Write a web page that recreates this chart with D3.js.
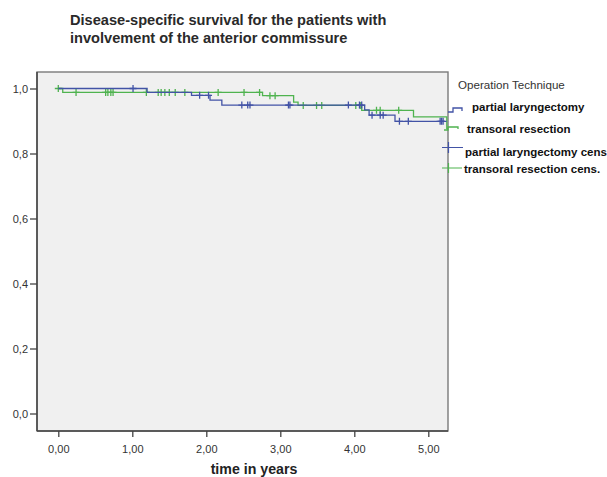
<!DOCTYPE html>
<html>
<head>
<meta charset="utf-8">
<style>
  body { margin: 0; background: #fff; }
  text { font-family: "Liberation Sans", Arial, sans-serif; }
</style>
</head>
<body>
<div id="chart"></div>
<script src="https://d3js.org/d3.v7.min.js"></script>
<script>
// ---- data
var xTicks = [0, 1, 2, 3, 4, 5];
var yTicks = [0, 0.2, 0.4, 0.6, 0.8, 1.0];

// partial laryngectomy (blue): step times + survival
var blueTimes = [0, 1.20, 1.80, 2.05, 2.21, 4.14, 4.20, 4.55];
var blueSurv  = [1.0, 0.988, 0.979, 0.964, 0.949, 0.934, 0.918, 0.899];
var blueEnd = 5.22;
var blueCens = [1.01, 1.91, 2.03, 2.48, 2.56, 2.59, 3.11, 3.13, 3.92, 4.07, 4.10,
                4.24, 4.35, 4.39, 4.61, 4.73, 5.16, 5.18, 5.20];

// transoral resection (green)
var greenTimes = [0, 0.06, 2.76, 3.18, 3.24, 4.10, 4.80, 5.25];
var greenSurv  = [1.0, 0.988, 0.978, 0.958, 0.948, 0.933, 0.913, 0.877];
var greenEnd = 5.265;
var greenCens = [0.0, 0.24, 0.64, 0.67, 0.71, 0.74, 1.19, 1.35, 1.39, 1.44, 1.50, 1.58,
                 1.71, 2.16, 2.51, 2.72, 2.86, 2.93, 3.31, 3.49, 3.56, 4.02, 4.08,
                 4.30, 4.35, 4.60];

var legendLabels = ["partial laryngectomy", "transoral resection",
                    "partial laryngectomy cens", "transoral resection cens."];

var blue = "#4253a6", green = "#4fb34f";

var width = 607, height = 477;
var svg = d3.select("#chart").append("svg")
    .attr("width", width)
    .attr("height", height);

var plot = {left: 37, right: 448, top: 72, bottom: 431};

var x = d3.scaleLinear().domain([0, 5]).range([58.3, 428.3]);
var y = d3.scaleLinear().domain([0, 1]).range([413.5, 88.5]);

// title
svg.append("text").attr("x", 70).attr("y", 25)
    .style("font-size", "14.6px").style("font-weight", "bold").style("fill", "#2a2a2a")
    .text("Disease-specific survival for the patients with");
svg.append("text").attr("x", 70).attr("y", 43)
    .style("font-size", "14.6px").style("font-weight", "bold").style("fill", "#2a2a2a")
    .text("involvement of the anterior commissure");

// plot background
svg.append("rect")
    .attr("x", plot.left).attr("y", plot.top)
    .attr("width", plot.right - plot.left).attr("height", plot.bottom - plot.top)
    .attr("fill", "#f0f0f0")
    .attr("stroke", "#7a7a7a").attr("stroke-width", 1.4);

// axes
var xAxis = svg.append("g")
    .attr("transform", "translate(0," + plot.bottom + ")")
    .call(d3.axisBottom(x).tickValues(xTicks).tickSize(6).tickSizeOuter(0)
        .tickFormat(function(d) { return d3.format(".2f")(d).replace(".", ","); }));
xAxis.select(".domain").attr("d", "M" + plot.left + ",0H" + plot.right)
    .attr("stroke", "#444").attr("stroke-width", 1.5);

var yAxis = svg.append("g")
    .attr("transform", "translate(" + plot.left + ",0)")
    .call(d3.axisLeft(y).tickValues(yTicks).tickSize(7).tickPadding(2)
        .tickFormat(function(d) { return d3.format(".1f")(d).replace(".", ","); }));
yAxis.select(".domain").attr("d", "M0," + plot.top + "V" + plot.bottom)
    .attr("stroke", "#444").attr("stroke-width", 1.5);

svg.selectAll(".tick line").attr("stroke", "#444").attr("stroke-width", 1.3);
svg.selectAll(".tick text")
    .style("font-family", "'Liberation Sans', Arial, sans-serif")
    .style("font-size", "11px").style("fill", "#333");
xAxis.selectAll(".tick text").attr("dy", "1.2em");

svg.append("text").attr("x", 254).attr("y", 474)
    .attr("text-anchor", "middle")
    .style("font-size", "14.2px").style("font-weight", "bold").style("fill", "#222")
    .text("time in years");

// survival curves
function stepPoints(times, surv, end) {
  var pts = times.map(function(t, i) { return [t, surv[i]]; });
  pts.push([end, surv[surv.length - 1]]);
  return pts;
}
function survAt(times, surv, t) {
  var s = surv[0];
  for (var i = 0; i < times.length; i++) { if (times[i] <= t) s = surv[i]; }
  return s;
}
var line = d3.line()
    .x(function(d) { return x(d[0]); })
    .y(function(d) { return y(d[1]); })
    .curve(d3.curveStepAfter);

function plus(cx, cy, s) {
  return "M" + (cx - s) + "," + cy + "h" + (2 * s) + "M" + cx + "," + (cy - s) + "v" + (2 * s);
}

var series = [
  {times: greenTimes, surv: greenSurv, end: greenEnd, cens: greenCens, color: green},
  {times: blueTimes, surv: blueSurv, end: blueEnd, cens: blueCens, color: blue}
];

series.forEach(function(s) {
  svg.append("path")
      .datum(stepPoints(s.times, s.surv, s.end))
      .attr("fill", "none")
      .attr("stroke", s.color)
      .attr("stroke-width", 1.3)
      .attr("d", line);
  svg.append("g").selectAll("path")
      .data(s.cens)
      .enter().append("path")
      .attr("fill", "none")
      .attr("stroke", s.color)
      .attr("stroke-width", 1.3)
      .attr("d", function(t) { return plus(x(t), y(survAt(s.times, s.surv, t)), 3.5); });
});

// legend
svg.append("text").attr("x", 458).attr("y", 89)
    .style("font-size", "11.6px").style("fill", "#333")
    .text("Operation Technique");

svg.append("path").attr("fill", "none").attr("stroke", blue).attr("stroke-width", 1.3)
    .attr("d", "M448,112H453V108H462V111");
svg.append("path").attr("fill", "none").attr("stroke", green).attr("stroke-width", 1.3)
    .attr("d", "M444,130H448V127H458V129");
svg.append("path").attr("fill", "none").attr("stroke", blue).attr("stroke-width", 1.2)
    .attr("d", "M442,147.5H463M448.5,142V153");
svg.append("path").attr("fill", "none").attr("stroke", green).attr("stroke-width", 1.2)
    .attr("d", "M442,168H462M448.5,163V173");

var legendPos = [[472, 110.5], [467, 133], [465, 155.5], [464, 173]];
svg.append("g").selectAll("text")
    .data(legendLabels)
    .enter().append("text")
    .attr("x", function(d, i) { return legendPos[i][0]; })
    .attr("y", function(d, i) { return legendPos[i][1]; })
    .style("font-size", "11.5px").style("font-weight", "bold").style("fill", "#111")
    .text(function(d) { return d; });
</script>
</body>
</html>
